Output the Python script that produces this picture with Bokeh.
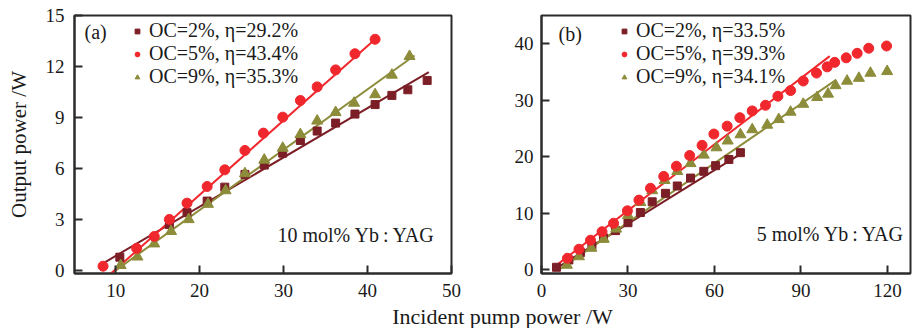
from bokeh.plotting import figure
from bokeh.models import Legend, LegendItem, Label, FixedTicker, Range1d
from bokeh.layouts import row, column
from bokeh.embed import file_html
from bokeh.resources import INLINE

# ---------------- data: panel (a) 10 mol% Yb:YAG ----------------
a_x_oc2 = [10.5, 16.4, 18.5, 20.9, 23.0, 25.4, 27.7, 29.9, 32.0, 34.0, 36.2, 38.5, 40.9, 42.9, 44.8, 47.1]
a_y_oc2 = [0.78, 2.7, 3.4, 4.08, 4.9, 5.65, 6.2, 6.9, 7.65, 8.2, 8.67, 9.2, 9.76, 10.3, 10.63, 11.18]
a_x_oc5 = [8.5, 12.5, 14.6, 16.4, 18.5, 20.9, 23.0, 25.4, 27.6, 29.9, 32.0, 34.0, 36.2, 38.5, 40.9]
a_y_oc5 = [0.25, 1.3, 2.0, 3.0, 3.96, 4.94, 5.92, 7.06, 8.08, 9.02, 10.0, 10.8, 11.8, 12.75, 13.6]
a_x_oc9 = [10.6, 12.6, 14.6, 16.6, 18.7, 21.0, 23.1, 25.4, 27.7, 29.9, 32.0, 34.0, 36.2, 38.4, 40.9, 42.9, 45.0]
a_y_oc9 = [0.3, 0.8, 1.57, 2.3, 3.0, 3.9, 4.7, 5.7, 6.5, 7.2, 8.0, 8.8, 9.3, 9.85, 10.35, 11.5, 12.6]
# fitted lines (end points)
a_fit_oc2_x = [8.4, 47.3]
a_fit_oc2_y = [0.39, 11.67]
a_fit_oc5_x = [9.4, 40.9]
a_fit_oc5_y = [-0.2, 13.6]
a_fit_oc9_x = [10.0, 45.6]
a_fit_oc9_y = [0.0, 12.65]
a_labels = ["OC=2%, η=29.2%", "OC=5%, η=43.4%", "OC=9%, η=35.3%"]

# ---------------- data: panel (b) 5 mol% Yb:YAG ----------------
b_x_oc2 = [5.2, 9.5, 13.5, 17.5, 21.5, 25.7, 30.0, 34.3, 38.4, 43.0, 47.1, 51.7, 56.3, 60.4, 65.0, 69.0]
b_y_oc2 = [0.4, 1.7, 3.0, 4.3, 5.6, 6.9, 8.3, 10.1, 12.0, 13.5, 14.8, 16.2, 17.4, 18.4, 19.5, 20.7]
b_x_oc5 = [9.0, 13.0, 17.0, 21.0, 25.0, 29.8, 33.8, 37.8, 42.4, 46.8, 51.4, 55.7, 59.8, 64.4, 68.8, 73.1,
           77.7, 82.0, 86.4, 90.8, 95.4, 99.1, 101.7, 105.7, 109.5, 113.5, 119.7]
b_y_oc5 = [2.0, 3.6, 5.2, 6.7, 8.2, 10.4, 12.3, 14.4, 16.5, 18.3, 20.2, 22.0, 24.0, 25.4, 26.9, 28.1,
           29.1, 30.7, 31.7, 33.4, 34.8, 35.9, 36.7, 37.5, 38.3, 39.2, 39.6]
b_x_oc9 = [8.8, 13.0, 17.3, 21.6, 25.9, 30.0, 34.3, 38.4, 42.7, 47.1, 51.7, 56.3, 60.7, 64.6, 69.0, 73.1,
           78.3, 82.3, 86.4, 90.8, 95.6, 99.4, 102.0, 106.0, 110.1, 114.1, 119.9]
b_y_oc9 = [0.8, 2.3, 3.8, 5.4, 7.2, 9.6, 11.9, 14.0, 15.8, 17.4, 18.8, 20.3, 21.6, 22.8, 23.9, 24.8,
           25.6, 26.6, 27.9, 29.3, 30.5, 31.1, 32.6, 33.4, 33.9, 34.8, 35.1]
b_fit_oc2_x = [4.4, 69.1]
b_fit_oc2_y = [0.0, 20.5]
b_fit_oc5_x = [4.0, 100.0]
b_fit_oc5_y = [0.3, 37.8]
b_fit_oc9_x = [6.7, 102.2]
b_fit_oc9_y = [0.2, 33.6]
b_labels = ["OC=2%, η=33.5%", "OC=5%, η=39.3%", "OC=9%, η=34.1%"]

a_xticks = [10, 20, 30, 40, 50]
a_yticks = [0, 3, 6, 9, 12, 15]
b_xticks = [0, 30, 60, 90, 120]
b_yticks = [0, 10, 20, 30, 40]

C_OC2 = "#7b1e26"
C_OC5 = "#f0282d"
C_OC9 = "#8c8c3a"
FRAME = "#2b2b2b"
FONT = "Liberation Serif"
ROW_H = 305


def style(p, xt, yt):
    p.xgrid.visible = False
    p.ygrid.visible = False
    p.outline_line_color = FRAME
    p.outline_line_width = 2
    for ax in (p.xaxis[0], p.yaxis[0]):
        ax.axis_line_color = FRAME
        ax.axis_line_width = 2
        ax.major_tick_line_color = FRAME
        ax.major_tick_line_width = 2
        ax.major_tick_in = 8
        ax.major_tick_out = 0
        ax.minor_tick_line_color = None
        ax.major_label_text_font = FONT
        ax.major_label_text_font_size = "19px"
        ax.major_label_text_color = "#1a1a1a"
        ax.axis_label_text_font = FONT
        ax.axis_label_text_font_style = "normal"
        ax.axis_label_text_font_size = "21px"
        ax.axis_label_text_color = "#1a1a1a"
    p.xaxis[0].ticker = FixedTicker(ticks=xt)
    p.yaxis[0].ticker = FixedTicker(ticks=yt)
    p.xaxis[0].major_label_standoff = 10


def panel(width, bl, br, xr, yr, data, labels, tag, note, tag_xy, note_xy, leg_loc, xt, yt, ylabel):
    p = figure(width=width, height=ROW_H, x_range=Range1d(*xr), y_range=Range1d(*yr),
               output_backend="svg", toolbar_location=None,
               min_border_left=bl, min_border_right=br, min_border_top=15,
               min_border_bottom=ROW_H - 15 - 258)
    style(p, xt, yt)
    if ylabel:
        p.yaxis[0].axis_label = ylabel
        p.yaxis[0].axis_label_standoff = 12
        p.yaxis[0].major_label_standoff = 10
    else:
        p.yaxis[0].major_label_standoff = 8
    (x2, y2, x5, y5, x9, y9, f2x, f2y, f5x, f5y, f9x, f9y) = data
    p.line(f2x, f2y, line_color=C_OC2, line_width=2)
    p.line(f9x, f9y, line_color=C_OC9, line_width=2)
    p.line(f5x, f5y, line_color=C_OC5, line_width=2)
    r2 = p.scatter(x2, y2, marker="square", size=8, fill_color=C_OC2, line_color=C_OC2)
    r9 = p.scatter(x9, y9, marker="triangle", size=11, fill_color=C_OC9, line_color=C_OC9)
    r5 = p.scatter(x5, y5, marker="circle", size=10, fill_color=C_OC5, line_color=C_OC5)
    leg = Legend(items=[LegendItem(label=labels[0], renderers=[r2]),
                        LegendItem(label=labels[1], renderers=[r5]),
                        LegendItem(label=labels[2], renderers=[r9])],
                 location=leg_loc, background_fill_alpha=0, border_line_color=None,
                 padding=0, margin=0, spacing=0, glyph_width=12, glyph_height=20,
                 label_height=20, label_standoff=6, label_text_font=FONT,
                 label_text_font_size="20px", label_text_color="#1a1a1a")
    p.add_layout(leg)
    p.add_layout(Label(x=tag_xy[0], y=tag_xy[1], text=tag, text_font=FONT, text_font_size="20px",
                       text_baseline="middle", text_align="left", text_color="#1a1a1a"))
    p.add_layout(Label(x=note_xy[0], y=note_xy[1], text=note, text_font=FONT, text_font_size="20px",
                       text_baseline="middle", text_align="right", text_color="#1a1a1a"))
    return p


pa = panel(500, 74, 49, (5.1, 50.0), (-0.18, 15.0),
           (a_x_oc2, a_y_oc2, a_x_oc5, a_y_oc5, a_x_oc9, a_y_oc9,
            a_fit_oc2_x, a_fit_oc2_y, a_fit_oc5_x, a_fit_oc5_y, a_fit_oc9_x, a_fit_oc9_y),
           a_labels, "(a)", "10 mol% Yb\u2009:\u2009YAG", (6.3, 14.0), (47.96, 2.07), (57, 185),
           a_xticks, a_yticks, "Output power /W")

pb = panel(412, 41, 2, (0.0, 128.0), (-0.7, 45.0),
           (b_x_oc2, b_y_oc2, b_x_oc5, b_y_oc5, b_x_oc9, b_y_oc9,
            b_fit_oc2_x, b_fit_oc2_y, b_fit_oc5_x, b_fit_oc5_y, b_fit_oc9_x, b_fit_oc9_y),
           b_labels, "(b)", "5 mol% Yb\u2009:\u2009YAG", (5.9, 41.8), (125.6, 6.37), (77, 185),
           b_xticks, b_yticks, None)

PL_H = 35
pl = figure(width=912, height=PL_H, output_backend="svg", toolbar_location=None,
            min_border=0, x_range=Range1d(0, 912), y_range=Range1d(0, PL_H),
            background_fill_color=None, border_fill_color=None)
pl.margin = (-(ROW_H + PL_H - 328), 0, 0, 0)
pl.axis.visible = False
pl.grid.visible = False
pl.outline_line_color = None
pl.add_layout(Label(x=502, y=12, x_units="screen", y_units="screen", text="Incident pump power /W",
                    text_font=FONT, text_font_size="22px", text_align="center",
                    text_baseline="alphabetic", text_color="#1a1a1a"))

layout = column(row(pa, pb, spacing=0), pl, spacing=0)
open("out.html", "w").write(file_html(layout, INLINE))
